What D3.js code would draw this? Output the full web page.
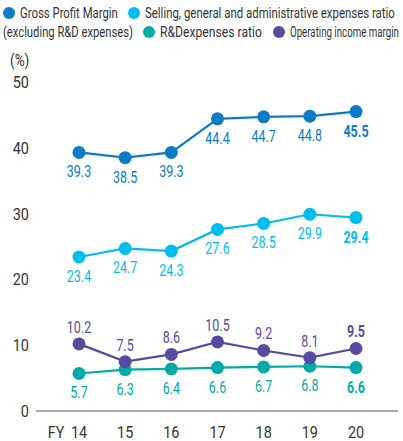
<!DOCTYPE html>
<html>
<head>
<meta charset="utf-8">
<script src="https://cdn.jsdelivr.net/npm/d3@7"></script>
<style>
  body { margin: 0; background: #fff; }
  svg text { font-family: "Roboto", sans-serif; }
</style>
</head>
<body>
<div id="chart"></div>
<script>
// chart data
var years = ["14", "15", "16", "17", "18", "19", "20"];
var grossProfit = [39.3, 38.5, 39.3, 44.4, 44.7, 44.8, 45.5];
var sgaRatio = [23.4, 24.7, 24.3, 27.6, 28.5, 29.9, 29.4];
var rdRatio = [5.7, 6.3, 6.4, 6.6, 6.7, 6.8, 6.6];
var opMargin = [10.2, 7.5, 8.6, 10.5, 9.2, 8.1, 9.5];
var yTicks = [0, 10, 20, 30, 40, 50];

var series = [
  { name: "Gross Profit Margin", values: grossProfit, color: "#0e7bc6", labelPos: "below" },
  { name: "Selling, general and administrative expenses ratio", values: sgaRatio, color: "#00bdf0", labelPos: "below" },
  { name: "R&Dexpenses ratio", values: rdRatio, color: "#00aba6", labelPos: "below" },
  { name: "Operating income margin", values: opMargin, color: "#574ba1", labelPos: "above" }
];

var width = 403, height = 441;
var svg = d3.select("#chart").append("svg")
  .attr("width", width)
  .attr("height", height);

var x = d3.scalePoint().domain(years).range([79, 356]);
var y = d3.scaleLinear().domain([0, 50]).range([411, 82]);

// condensed text: squeeze horizontally around the anchor point
function narrowText(sel, px, py, k) {
  return sel.append("text")
    .attr("transform", "translate(" + px + "," + py + ") scale(" + k + ",1)");
}

// legend - squeeze each label to the width it has in the original
var legend = svg.append("g").attr("font-size", 14).attr("fill", "#333");
function legendText(px, py, label, w) {
  var t = legend.append("text").text(label);
  var k = w / t.node().getComputedTextLength();
  t.attr("transform", "translate(" + px + "," + py + ") scale(" + k + ",1)");
}
function legendItem(cx, cy, color, label, w) {
  legend.append("circle").attr("cx", cx).attr("cy", cy).attr("r", 6).attr("fill", color);
  legendText(cx + 11, cy + 5, label, w);
}
legendItem(9, 13, series[0].color, series[0].name, 98);
legendItem(134, 13, series[1].color, series[1].name, 250);
legendText(3, 37, "(excluding R&D expenses)", 130);
legendItem(149, 32, series[2].color, series[2].name, 102);
legendItem(279, 32, series[3].color, series[3].name, 109);

// y axis (labels only)
narrowText(svg, 10, 66, 0.85).attr("font-size", 16).attr("fill", "#333").text("(%)");
yTicks.forEach(function(t) {
  narrowText(svg, 29, y(t) + 6, 0.85)
    .attr("text-anchor", "end")
    .attr("font-size", 17).attr("fill", "#333")
    .text(t);
});

// baseline
svg.append("line")
  .attr("x1", 36).attr("x2", 398)
  .attr("y1", y(0)).attr("y2", y(0))
  .attr("stroke", "#555").attr("stroke-width", 1.2);

// x labels
years.forEach(function(yr) {
  narrowText(svg, x(yr), 438, 0.85)
    .attr("text-anchor", "middle")
    .attr("font-size", 17).attr("fill", "#333")
    .text(yr);
});
narrowText(svg, 56, 438, 0.85).attr("text-anchor", "middle")
  .attr("font-size", 17).attr("fill", "#333").text("FY");

var line = d3.line().x((d, i) => x(years[i])).y(d => y(d));

series.forEach(function(s) {
  var g = svg.append("g");
  g.append("path").datum(s.values)
    .attr("d", line)
    .attr("fill", "none")
    .attr("stroke", s.color)
    .attr("stroke-width", 2.2);
  g.selectAll("circle").data(s.values).enter().append("circle")
    .attr("cx", (d, i) => x(years[i]))
    .attr("cy", d => y(d))
    .attr("r", 6.5)
    .attr("fill", s.color);
  s.values.forEach(function(d, i) {
    var ly = s.labelPos === "above" ? y(d) - 11 : y(d) + 25;
    narrowText(g, x(years[i]), ly, 0.78)
      .attr("text-anchor", "middle")
      .attr("font-size", 16)
      .attr("font-weight", i === s.values.length - 1 ? "bold" : "normal")
      .attr("fill", s.color)
      .text(d.toFixed(1));
  });
});
</script>
</body>
</html>
